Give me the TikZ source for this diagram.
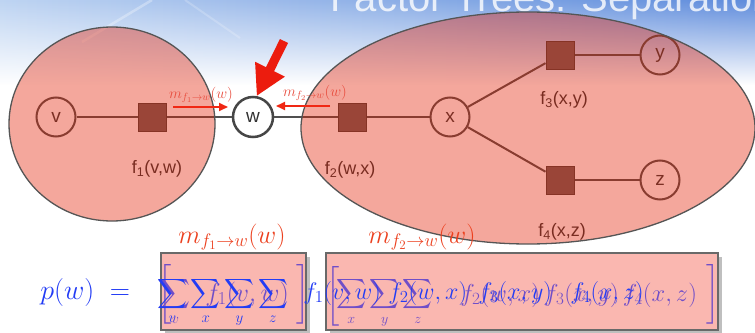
\RequirePackage{fix-cm}
\documentclass[tikz,border=0pt]{standalone}
\usepackage{amsmath}
\usepackage{fontspec}
\newfontfamily\labelfont{Liberation Sans}
\usetikzlibrary{arrows.meta,fadings}

\tikzset{every picture/.style={line width=0.75pt}}
\tikzset{
  varnode/.style={circle, draw={rgb,255:red,80;green,80;blue,80}, line width=2pt, minimum size=39pt, inner sep=0pt,
    text={rgb,255:red,60;green,60;blue,60}, font=\labelfont\fontsize{19}{19}\selectfont},
  obsnode/.style={varnode, fill=white, draw={rgb,255:red,70;green,70;blue,70}, line width=2.5pt, minimum size=40pt,
    text={rgb,255:red,50;green,50;blue,50}},
  facnode/.style={rectangle, fill={rgb,255:red,108;green,96;blue,92}, draw={rgb,255:red,75;green,65;blue,62},
    line width=1pt, minimum size=28pt, inner sep=0pt},
  link/.style={draw={rgb,255:red,80;green,80;blue,80}, line width=2pt},
  flabel/.style={text={rgb,255:red,55;green,55;blue,55}, font=\labelfont\fontsize{18}{18}\selectfont, inner sep=0pt},
  blob/.style={fill={rgb,255:red,227;green,29;blue,0}, fill opacity=0.39, draw={rgb,255:red,85;green,85;blue,85}, line width=1.3pt},
  msg/.style={draw={rgb,255:red,240;green,40;blue,20}, line width=2pt, -{Triangle[length=9pt,width=8pt]}},
  msglabel/.style={text={rgb,255:red,232;green,75;blue,60}, font=\fontsize{15}{15}\selectfont, inner sep=0pt},
  bigarrow/.style={draw={rgb,255:red,236;green,28;blue,14}, line width=9pt, -{Triangle[length=30pt,width=31pt]}},
  sumbox/.style={rectangle, fill={rgb,255:red,250;green,183;blue,176}, draw={rgb,255:red,105;green,105;blue,105},
    line width=1.5pt, inner sep=0pt},
  boxlabel/.style={text={rgb,255:red,236;green,64;blue,30}, font=\fontsize{26}{26}\selectfont, inner sep=0pt, anchor=base},
  bluemath/.style={text={rgb,255:red,35;green,60;blue,245}, inner sep=0pt, anchor=base west, font=\fontsize{#1}{#1}\selectfont},
  purplemath/.style={text={rgb,255:red,112;green,78;blue,200}, inner sep=0pt, anchor=base west, font=\fontsize{#1}{#1}\selectfont},
  titletext/.style={text=white, text opacity=0.8, inner sep=0pt, font=\labelfont\fontsize{40}{40}\selectfont},
}

\begin{document}
\begin{tikzpicture}[x=1pt,y=1pt,yscale=-1,xscale=1]
    \useasboundingbox (0,0) rectangle (755,332);
    %Background
    \fill[white] (0,0) rectangle (755,332);
    \shade[left color={rgb,255:red,190;green,212;blue,242}, right color={rgb,255:red,95;green,140;blue,220}, path fading=south] (0,0) rectangle (755,85);
    \draw[white, opacity=0.3, line width=2.5pt] (82,42) -- (152,0);
    \draw[white, opacity=0.2, line width=2pt] (185,0) -- (240,38);
    %Title
    \begin{scope}
      \clip (0,0) rectangle (755,332);
      \node[titletext, anchor=base west] (title) at (330,11) {Factor Trees: Separation};
    \end{scope}

    %Variables and factors
    \node[varnode] (v) at (56,117) {v};
    \node[facnode] (f1) at (152,117) {};
    \node[obsnode] (w) at (253,117) {w};
    \node[facnode] (f2) at (352,117) {};
    \node[varnode] (x) at (450,117) {x};
    \node[facnode] (f3) at (560,55) {};
    \node[varnode] (y) at (660,55) {y};
    \node[facnode] (f4) at (560,180) {};
    \node[varnode] (z) at (660,180) {z};
    %Straight Lines
    \draw[link] (v) -- (f1);
    \draw[link] (f1) -- (w);
    \draw[link] (w) -- (f2);
    \draw[link] (f2) -- (x);
    \draw[link] (x) -- (f3);
    \draw[link] (f3) -- (y);
    \draw[link] (x) -- (f4);
    \draw[link] (f4) -- (z);
    %Factor labels
    \node[flabel] (lf1) at (157,169) {f\textsubscript{1}(v,w)};
    \node[flabel] (lf2) at (350,170) {f\textsubscript{2}(w,x)};
    \node[flabel] (lf3) at (564,100) {f\textsubscript{3}(x,y)};
    \node[flabel] (lf4) at (562,232) {f\textsubscript{4}(x,z)};

    %Shape: Circle
    \draw[blob] (112,124) ellipse [x radius=103, y radius=97];
    %Shape: Ellipse
    \draw[blob] (528,128) ellipse [x radius=227, y radius=116];

    %Messages into w
    \coordinate (m1s) at (173,107);
    \coordinate (m1e) at (228,107);
    \coordinate (m2s) at (330,106);
    \coordinate (m2e) at (276,106);
    \draw[msg] (m1s) -- (m1e);
    \draw[msg] (m2s) -- (m2e);
    \node[msglabel] (lm1) at (201,95) {$m_{f_1\to w}(w)$};
    \node[msglabel] (lm2) at (315,93) {$m_{f_2\to w}(w)$};
    %Big arrow
    \coordinate (bigtail) at (284,41);
    \draw[bigarrow] (bigtail) -- (w.80);

    %Boxes
    \fill[black, opacity=0.25] (165,257) rectangle (310,334);
    \fill[black, opacity=0.25] (330,257) rectangle (722,334);
    \node[sumbox, minimum width=145pt, minimum height=77pt] (box1) at (233.5,291.5) {};
    \node[sumbox, minimum width=392pt, minimum height=77pt] (box2) at (522,291.5) {};
    \node[boxlabel] (lb1) at (232,243) {$m_{f_1\to w}(w)$};
    \node[boxlabel] (lb2) at (422,243) {$m_{f_2\to w}(w)$};

    %Formula, purple layer
    \node[purplemath=26, anchor=center] (pbl1) at (166,294) {$\left[\rule[-24.5pt]{0pt}{62pt}\right.$};
    \node[purplemath=20] (ps1) at (160,299) {$\displaystyle\sum_v$};
    \node[purplemath=26] (pf1) at (205,301) {$f_1(v,w)$};
    \node[purplemath=26, anchor=center] (pbr1) at (302,294) {$\left.\rule[-24.5pt]{0pt}{62pt}\right]$};
    \node[purplemath=26, anchor=center] (pbl2) at (334,296) {$\left[\rule[-24.5pt]{0pt}{62pt}\right.$};
    \node[purplemath=20] (ps2) at (336,299) {$\displaystyle\sum_x\sum_y\sum_z$};
    \node[purplemath=24.5] (pf2) at (460,301) {$f_2(w,x)\,f_3(x,y)\,f_4(x,z)$};
    \node[purplemath=26, anchor=center] (pbr2) at (712,294) {$\left.\rule[-24.5pt]{0pt}{62pt}\right]$};
    %Formula, blue layer
    \node[bluemath=28] (pw) at (40,299) {$p(w)\;=$};
    \node[bluemath=21.5] (bs) at (157,299) {$\displaystyle\sum_v\sum_x\sum_y\sum_z$};
    \node[bluemath=24] (bf1) at (303,299) {$f_1(v,w)$};
    \node[bluemath=24] (bf2) at (388,299) {$f_2(w,x)$};
    \node[bluemath=24] (bf3) at (478,299) {$f_3(x,y)$};
    \node[bluemath=24] (bf4) at (570,299) {$f_4(x,z)$};
\end{tikzpicture}
\end{document}
